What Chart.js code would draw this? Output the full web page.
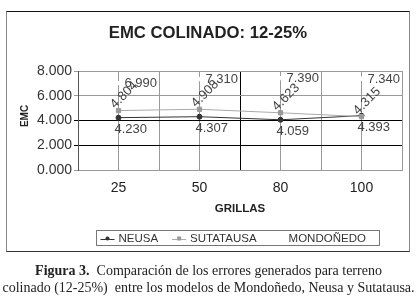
<!DOCTYPE html>
<html>
<head>
<meta charset="utf-8">
<script src="https://cdn.jsdelivr.net/npm/chart.js@4.4.1/dist/chart.umd.min.js"></script>
<style>
  body { margin: 0; width: 417px; height: 306px; background: #fff; position: relative; overflow: hidden; }
  #chart-emc { position: absolute; left: 0; top: 0; }
  #frame {
    position: absolute; left: 6px; top: 11px; width: 402px; height: 239px;
    border-top: 1px solid #111; border-bottom: 1px solid #333;
    border-left: 1px solid #888; border-right: 1px solid #888;
    pointer-events: none;
  }
  #caption {
    position: absolute; left: 0; top: 262px; width: 417px; text-align: center;
    font-family: "Liberation Serif", "Times New Roman", serif; font-size: 14px;
    line-height: 17px; color: #222;
  }
</style>
</head>
<body>
<canvas id="chart-emc" width="417" height="256"></canvas>
<div id="frame"></div>
<div id="caption"><b>Figura 3.</b>&nbsp; Comparación de los errores generados para terreno<br>colinado (12-25%)&nbsp; entre los modelos de Mondoñedo, Neusa y Sutatausa.</div>
<script>
// Chart data
const CATEGORIES = ["25", "50", "80", "100"];
const NEUSA = [4.23, 4.307, 4.059, 4.393];
const SUTATAUSA = [4.804, 4.908, 4.623, 4.315];
const MONDONEDO = [6.99, 7.31, 7.39, 7.34];
const Y_TICKS = [0, 2, 4, 6, 8];

const FONT = "'Liberation Sans', Arial, sans-serif";

const toPoints = (values) => values.map((v, i) => ({ x: i + 0.5, y: v }));
const fmt = (v) => v.toFixed(3);

// Texts, legend and value labels
const decorations = {
  id: "decorations",
  afterDatasetsDraw(chart) {
    const { ctx, chartArea } = chart;
    const midX = (chartArea.left + chartArea.right) / 2;
    ctx.save();
    ctx.fillStyle = "#222";
    ctx.textAlign = "center";
    ctx.textBaseline = "middle";

    ctx.font = "bold 16.7px " + FONT;
    ctx.fillText("EMC COLINADO: 12-25%", 208, 33);

    ctx.font = "bold 11.5px " + FONT;
    ctx.fillText("GRILLAS", midX, 209);

    ctx.save();
    ctx.translate(25, 116);
    ctx.rotate(-Math.PI / 2);
    ctx.font = "bold 10px " + FONT;
    ctx.fillText("EMC", 0, 0);
    ctx.restore();

    // value labels
    ctx.font = "13px " + FONT;
    ctx.fillStyle = "#444";
    ctx.textAlign = "left";
    chart.data.datasets.forEach((ds, i) => {
      const meta = chart.getDatasetMeta(i);
      meta.data.forEach((pt, j) => {
        const text = fmt(ds.data[j].y);
        if (ds.labelPos === "below") {
          ctx.fillText(text, pt.x - 4, pt.y + 12);
        } else if (ds.labelPos === "right") {
          ctx.fillText(text, pt.x + 6, pt.y);
        } else {
          ctx.save();
          ctx.translate(pt.x - 6, pt.y - 4);
          ctx.rotate(-Math.PI / 4);
          ctx.fillText(text, 0, 0);
          ctx.restore();
        }
      });
    });

    // legend
    const boxLeft = 96.5, boxTop = 230.5, boxW = 283, boxH = 15;
    ctx.strokeStyle = "#777";
    ctx.lineWidth = 1;
    ctx.strokeRect(boxLeft, boxTop, boxW, boxH);
    ctx.font = "11.5px " + FONT;
    ctx.fillStyle = "#333";
    let x = boxLeft + 4;
    const y = boxTop + boxH / 2 + 0.5;
    chart.data.datasets.forEach((ds) => {
      ctx.strokeStyle = ds.borderColor;
      ctx.beginPath();
      ctx.moveTo(x, Math.round(y) + 0.5);
      ctx.lineTo(x + 14, Math.round(y) + 0.5);
      ctx.stroke();
      ctx.fillStyle = ds.pointBackgroundColor;
      if (ds.pointStyle === "rect") {
        ctx.fillRect(x + 5, y - 2, 4, 4);
      } else {
        ctx.beginPath();
        ctx.arc(x + 7, y, 2, 0, Math.PI * 2);
        ctx.fill();
      }
      ctx.fillStyle = "#333";
      ctx.fillText(ds.label, x + 18, y);
      x += 18 + ctx.measureText(ds.label).width + 14;
    });
    ctx.restore();
  },
};

const DATA = {
  datasets: [
    {
      label: "NEUSA",
      data: toPoints(NEUSA),
      borderColor: "#333",
      borderWidth: 1,
      pointStyle: "circle",
      pointRadius: 2.5,
      pointBackgroundColor: "#333",
      pointBorderColor: "#333",
      labelPos: "below",
      order: 2,
    },
    {
      label: "SUTATAUSA",
      data: toPoints(SUTATAUSA),
      borderColor: "#aaa",
      borderWidth: 1,
      pointStyle: "rect",
      pointRadius: 3,
      pointBackgroundColor: "#999",
      pointBorderColor: "#999",
      labelPos: "rotated",
      order: 1,
    },
    {
      label: "MONDOÑEDO",
      data: toPoints(MONDONEDO),
      borderColor: "#fff",
      borderWidth: 1,
      showLine: false,
      pointStyle: "triangle",
      pointRadius: 2.5,
      pointBackgroundColor: "#fff",
      pointBorderColor: "#fff",
      labelPos: "right",
      order: 3,
    },
  ],
};

const CONFIG = {
  type: "line",
  data: DATA,
  plugins: [decorations],
  options: {
    responsive: false,
    animation: false,
    layout: { padding: { left: 0, top: 71, right: 15, bottom: 56 } },
    plugins: {
      legend: { display: false },
      title: { display: false },
      tooltip: { enabled: false },
    },
    scales: {
      x: {
        type: "linear",
        min: 0,
        max: CATEGORIES.length,
        afterFit: (scale) => { scale.height = 30; },
        afterBuildTicks: (scale) => {
          const ticks = [];
          for (let i = 0; i <= CATEGORIES.length * 2; i++) ticks.push({ value: i / 2 });
          scale.ticks = ticks;
        },
        border: { color: "#999" },
        grid: {
          drawTicks: false,
          color: (c) => (c.tick && c.tick.value === 2 ? "#000" : "#999"),
        },
        ticks: {
          autoSkip: false,
          maxRotation: 0,
          padding: 10,
          color: "#222",
          font: { family: FONT, size: 14 },
          callback: (v) => {
            const i = v - 0.5;
            return Number.isInteger(i) ? CATEGORIES[i] : "";
          },
        },
      },
      y: {
        min: Y_TICKS[0],
        max: Y_TICKS[Y_TICKS.length - 1],
        afterFit: (scale) => { scale.width = 78; },
        afterBuildTicks: (scale) => { scale.ticks = Y_TICKS.map((v) => ({ value: v })); },
        border: { color: "#555" },
        grid: {
          tickLength: 4,
          color: (c) => (c.tick && (c.tick.value === 2 || c.tick.value === 4) ? "#000" : "#999"),
        },
        ticks: {
          padding: 2,
          color: "#333",
          font: { family: FONT, size: 14 },
          callback: (v) => fmt(v),
        },
      },
    },
  },
};

new Chart(document.getElementById("chart-emc"), CONFIG);
</script>
</body>
</html>
